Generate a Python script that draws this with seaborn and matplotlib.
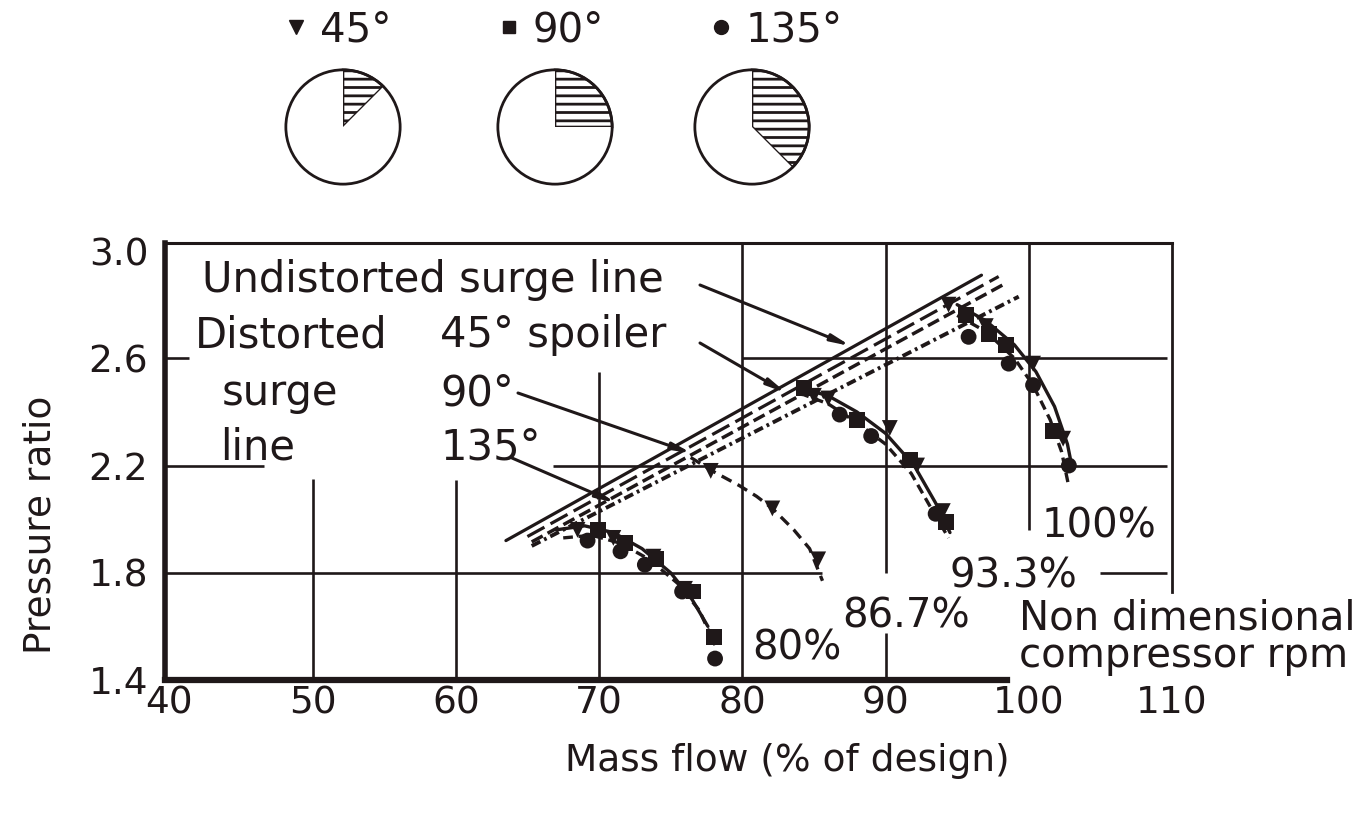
import pandas as pd
import matplotlib.pyplot as plt
import seaborn as sns
from matplotlib.lines import Line2D

sns.set_style("white")
plt.rcParams["font.family"] = ["DejaVu Sans"]
plt.rcParams["lines.scale_dashes"] = False
plt.rcParams["hatch.linewidth"] = 2.0

ink = "#1f1819"

# surge lines: mass flow (% of design) vs pressure ratio
undist_x = [63.5, 96.7]
undist_y = [1.92, 2.91]
d45_x = [65.0, 97.9]
d45_y = [1.935, 2.905]
d90_x = [65.3, 98.4]
d90_y = [1.915, 2.88]
d135_x = [65.3, 99.3]
d135_y = [1.90, 2.83]

# constant speed lines (solid + dashed)
c80_solid_x = [67.0, 69.0, 71.0, 73.0, 75.0, 76.5, 77.6]
c80_solid_y = [1.96, 1.975, 1.95, 1.89, 1.80, 1.70, 1.60]
c80_dash_x = [67.5, 69.5, 71.5, 73.5, 75.5, 77.0, 78.1]
c80_dash_y = [1.93, 1.94, 1.91, 1.85, 1.76, 1.66, 1.53]
c86_x = [76.4, 77.9, 79.8, 81.0, 82.1, 83.6, 84.7, 85.6]
c86_y = [2.23, 2.18, 2.125, 2.085, 2.04, 1.96, 1.89, 1.77]
c93_solid_x = [84.0, 86.0, 88.0, 90.0, 92.0, 93.5, 94.5]
c93_solid_y = [2.49, 2.46, 2.40, 2.32, 2.20, 2.06, 1.95]
c93_dash_x = [84.0, 86.0, 88.0, 90.0, 91.8, 93.3, 94.4]
c93_dash_y = [2.47, 2.43, 2.36, 2.28, 2.17, 2.03, 1.93]
c100_solid_x = [95.0, 97.0, 99.0, 100.5, 101.8, 102.7, 103.0]
c100_solid_y = [2.80, 2.74, 2.65, 2.55, 2.42, 2.28, 2.20]
c100_dash_x = [95.0, 97.0, 99.0, 100.3, 101.5, 102.3, 102.8]
c100_dash_y = [2.76, 2.70, 2.60, 2.50, 2.37, 2.25, 2.12]

# measured points per spoiler angle (80%, 86.7%, 93.3%, 100%)
tri_x = [68.5, 71.0, 73.8, 76.0, 77.8, 82.1, 85.3, 85.0, 86.0, 90.3, 92.2, 94.0, 94.4, 97.0, 100.3, 102.4]
tri_y = [1.96, 1.93, 1.86, 1.74, 2.18, 2.04, 1.85, 2.46, 2.45, 2.34, 2.20, 2.03, 2.80, 2.72, 2.58, 2.30]
sq_x = [69.9, 71.8, 74.0, 76.6, 78.0, 84.3, 88.0, 91.7, 94.2, 95.6, 97.2, 98.4, 101.7]
sq_y = [1.96, 1.91, 1.85, 1.73, 1.56, 2.49, 2.37, 2.22, 1.99, 2.76, 2.69, 2.65, 2.33]
ci_x = [69.2, 71.5, 73.2, 75.8, 78.1, 86.8, 89.0, 93.5, 95.8, 98.6, 100.3, 102.8]
ci_y = [1.92, 1.88, 1.83, 1.73, 1.48, 2.39, 2.31, 2.02, 2.68, 2.58, 2.50, 2.20]

spoiler_labels = ["45°", "90°", "135°"]
spoiler_angles = [45, 90, 135]

# drawn grid pieces
vgrid_x = [50, 60, 70, 80, 90, 90, 100]
vgrid_lo = [1.4, 1.4, 1.4, 1.4, 1.8, 1.4, 1.96]
vgrid_hi = [2.15, 2.145, 2.55, 3.03, 3.03, 1.576, 3.03]
hgrid_y = [2.6, 2.6, 2.2, 2.2, 1.8, 1.8]
hgrid_lo = [39.7, 80.0, 39.7, 66.8, 39.7, 105.0]
hgrid_hi = [41.4, 109.65, 46.6, 109.65, 85.6, 109.65]

W, H = 1366, 832


def fx(px):
    return px / W


def fy(py):
    return 1 - py / H


fig = plt.figure(figsize=(13.66, 8.32), dpi=100)
ax = fig.add_axes([fx(165), fy(680), 1007 / W, 437 / H])
ax.set_xlim(39.7, 109.65)
ax.set_ylim(1.4, 3.03)

ax.vlines(vgrid_x, vgrid_lo, vgrid_hi, color=ink, lw=1.9)
ax.hlines(hgrid_y, hgrid_lo, hgrid_hi, color=ink, lw=1.9)

# surge lines
sns.lineplot(x=undist_x, y=undist_y, color=ink, lw=2.3, ax=ax)
sns.lineplot(x=d45_x, y=d45_y, color=ink, lw=2.3, ax=ax)
ax.lines[-1].set_dashes((14, 5))
sns.lineplot(x=d90_x, y=d90_y, color=ink, lw=2.5, ax=ax)
ax.lines[-1].set_dashes((9, 4))
sns.lineplot(x=d135_x, y=d135_y, color=ink, lw=2.8, ax=ax)
ax.lines[-1].set_dashes((7, 3, 2, 3))

# speed lines
for xs, ys, dash in [
    (c80_solid_x, c80_solid_y, None), (c80_dash_x, c80_dash_y, (7, 4)),
    (c86_x, c86_y, (8, 5)),
    (c93_solid_x, c93_solid_y, None), (c93_dash_x, c93_dash_y, (7, 4)),
    (c100_solid_x, c100_solid_y, None), (c100_dash_x, c100_dash_y, (7, 4)),
]:
    sns.lineplot(x=xs, y=ys, sort=False, estimator=None, color=ink, lw=2.4, ax=ax)
    if dash:
        ax.lines[-1].set_dashes(dash)

pts = pd.DataFrame({
    "x": tri_x + sq_x + ci_x,
    "y": tri_y + sq_y + ci_y,
    "spoiler": ["45°"] * len(tri_x) + ["90°"] * len(sq_x) + ["135°"] * len(ci_x),
})
sns.scatterplot(data=pts, x="x", y="y", style="spoiler",
                markers={"45°": "v", "90°": "s", "135°": "o"},
                color=ink, s=130, linewidth=0, legend=False, ax=ax, zorder=3)

# frame
for side in ["left", "top", "right", "bottom"]:
    ax.spines[side].set_color(ink)
ax.spines["left"].set_linewidth(4.0)
ax.spines["bottom"].set_linewidth(4.5)
ax.spines["top"].set_linewidth(2.2)
ax.spines["right"].set_linewidth(2.0)
ax.spines["right"].set_bounds(1.73, 3.03)
ax.spines["bottom"].set_bounds(39.7, 98.5)

ax.set_xticks([40, 50, 60, 70, 80, 90, 100, 110])
ax.set_yticks([1.4, 1.8, 2.2, 2.6, 3.0])
ax.set_yticklabels(["1.4", "1.8", "2.2", "2.6", "3.0"])
ax.tick_params(axis="both", length=0, labelsize=27, colors=ink)
ax.tick_params(axis="x", pad=4)
ax.tick_params(axis="y", pad=12)
ax.set_xlabel("Mass flow (% of design)", fontsize=27, color=ink)
ax.xaxis.set_label_coords((787 - 165) / 1007, -0.145)
ax.set_ylabel("Pressure ratio", fontsize=27, color=ink)
ax.yaxis.set_label_coords(-0.106, 0.355)

# labels inside the chart
txt = dict(fontsize=30, color=ink, va="baseline", ha="left")
fig.text(fx(202), fy(292), "Undistorted surge line", **txt)
fig.text(fx(195), fy(347), "Distorted", **txt)
fig.text(fx(440), fy(347), "45° spoiler", **txt)
fig.text(fx(222), fy(405), "surge", **txt)
fig.text(fx(440), fy(405), "90°", **txt)
fig.text(fx(220), fy(460), "line", **txt)
fig.text(fx(440), fy(460), "135°", **txt)
txt["fontsize"] = 29
fig.text(fx(1042), fy(537), "100%", **txt)
fig.text(fx(950), fy(587), "93.3%", **txt)
fig.text(fx(842), fy(627), "86.7%", **txt)
fig.text(fx(752), fy(660), "80%", **txt)
fig.text(fx(1019), fy(630), "Non dimensional", **txt)
fig.text(fx(1019), fy(667), "compressor rpm", **txt)

arrow = dict(arrowstyle="-|>,head_length=1.1,head_width=0.2", lw=2.2, color=ink,
             shrinkA=0, shrinkB=0)
ax.annotate("", xy=(87.6, 2.645), xytext=(fx(700), fy(285)), textcoords="figure fraction", arrowprops=arrow)
ax.annotate("", xy=(83.1, 2.47), xytext=(fx(700), fy(343)), textcoords="figure fraction", arrowprops=arrow)
ax.annotate("", xy=(76.5, 2.245), xytext=(fx(518), fy(393)), textcoords="figure fraction", arrowprops=arrow)
ax.annotate("", xy=(71.2, 2.06), xytext=(fx(512), fy(458)), textcoords="figure fraction", arrowprops=arrow)

# spoiler sketches
for cx, ang in zip([343, 555, 752], spoiler_angles):
    pax = fig.add_axes([fx(cx - 60), fy(127 + 60), 120 / W, 120 / H])
    wedges, _ = pax.pie([ang, 360 - ang], startangle=90, counterclock=False,
                        colors=["white", "white"],
                        wedgeprops=dict(edgecolor=ink, linewidth=1.9))
    wedges[0].set_hatch("--")
    wedges[1].set_edgecolor("none")
    pax.add_patch(plt.Circle((0, 0), 1, fill=False, edgecolor=ink, lw=2.0))
    pax.set_xlim(-1.05, 1.05)
    pax.set_ylim(-1.05, 1.05)
    pax.axis("off")

handles = [Line2D([], [], marker=m, ls="", color=ink, ms=ms)
           for m, ms in zip(["v", "s", "o"], [10, 8, 10])]
fig.legend(handles, spoiler_labels, loc="center left", bbox_to_anchor=(fx(284), fy(30)),
           ncol=3, frameon=False, fontsize=29, handlelength=0.6, handletextpad=0.3,
           columnspacing=2.6, borderpad=0, borderaxespad=0, labelcolor=ink)

plt.savefig("out.png", dpi=100)
